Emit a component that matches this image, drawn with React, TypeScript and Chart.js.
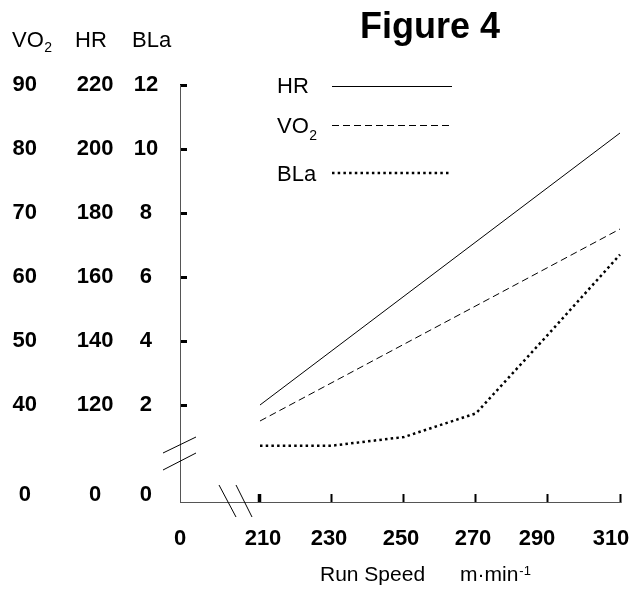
import React, { useEffect, useRef } from 'react';
import { Chart, registerables } from 'chart.js';

Chart.register(...registerables);

const FONT = "'Liberation Sans', Arial, Helvetica, sans-serif";

// ---- data ----
const speeds = [210, 230, 250, 270, 290, 310];
const hrValues = [120, 137, 154, 171, 188, 205];
const vo2Values = [37.5, 43.5, 49.5, 55.5, 61.5, 67.5];
const blaValues = [0.73, 0.73, 1.0, 1.74, 4.2, 6.7];

// ---- tick labels ----
const xTickValues = [0, 210, 230, 250, 270, 290, 310];
const vo2TickValues = [0, 40, 50, 60, 70, 80, 90];
const hrTickValues = [0, 120, 140, 160, 180, 200, 220];
const blaTickValues = [0, 2, 4, 6, 8, 10, 12];

// ---- axis ranges (broken axes: the "0" label sits past the break) ----
const X_MIN = 187.78;
const X_MAX = 310;
const BLA_MIN = -1.03125;
const BLA_MAX = 12;
const BLA_ZERO_AT = -0.8;
const HR_MIN = 89.6875;
const HR_MAX = 220;
const VO2_MIN = 24.84375;
const VO2_MAX = 90;
const ZERO_FRAC = (BLA_ZERO_AT - BLA_MIN) / (BLA_MAX - BLA_MIN);

const TITLE = 'Figure 4';
const X_TITLE = 'Run Speed';
const X_UNIT = 'm·min';
const X_UNIT_SUP = '-1';

// small horizontal nudges of the x tick labels (as placed in the original figure)
const X_LABEL_NUDGE = [0, 3, -3, -3, -3, -11, -9];

function brokenTicks(values: number[], min: number, max: number) {
  return (scale: any) => {
    scale.ticks = values.map((v) => ({ value: v === 0 ? min + ZERO_FRAC * (max - min) : v }));
  };
}

function fixSize(prop: 'width' | 'height', size: number) {
  return (scale: any) => {
    scale[prop] = size;
    scale.paddingLeft = 0;
    scale.paddingRight = 0;
    scale.paddingTop = 0;
    scale.paddingBottom = 0;
  };
}

function drawSub(ctx: CanvasRenderingContext2D, x: number, y: number, main: string, sub: string, size: number, subSize: number, dy: number) {
  ctx.font = `${size}px ${FONT}`;
  ctx.fillText(main, x, y);
  const w = ctx.measureText(main).width;
  ctx.font = `${subSize}px ${FONT}`;
  ctx.fillText(sub, x + w + 0.5, y + dy);
}

const nudgePlugin = {
  id: 'nudge',
  beforeDraw(chart: any) {
    const scale = chart.scales.x;
    const items = scale.getLabelItems();
    if (scale._nudged === items) return;
    items.forEach((it: any, i: number) => {
      if (it.options && it.options.translation) it.options.translation[0] += X_LABEL_NUDGE[i] || 0;
    });
    scale._nudged = items;
  },
};

const decorPlugin = {
  id: 'decor',
  afterDraw(chart: any) {
    const ctx: CanvasRenderingContext2D = chart.ctx;
    ctx.save();
    ctx.fillStyle = '#000';
    ctx.textAlign = 'left';
    ctx.textBaseline = 'alphabetic';

    // title
    ctx.font = `bold 36px ${FONT}`;
    ctx.fillText(TITLE, 360, 38);

    // axis headers
    drawSub(ctx, 12, 47, 'VO', '2', 22, 14, 5);
    ctx.font = `22px ${FONT}`;
    ctx.fillText('HR', 75, 47);
    ctx.fillText('BLa', 132, 47);

    // legend
    ctx.font = `22px ${FONT}`;
    ctx.fillText('HR', 277, 93);
    drawSub(ctx, 277, 133, 'VO', '2', 22, 14, 7);
    ctx.font = `22px ${FONT}`;
    ctx.fillText('BLa', 277, 181);

    ctx.strokeStyle = '#000';
    ctx.lineCap = 'butt';
    ctx.lineWidth = 1;
    ctx.setLineDash([]);
    ctx.beginPath(); ctx.moveTo(332, 86.5); ctx.lineTo(452, 86.5); ctx.stroke();
    ctx.setLineDash([7, 4]);
    ctx.beginPath(); ctx.moveTo(332, 125.5); ctx.lineTo(450, 125.5); ctx.stroke();
    ctx.lineWidth = 2.5;
    ctx.setLineDash([2.5, 3.2]);
    ctx.beginPath(); ctx.moveTo(332, 173); ctx.lineTo(450, 173); ctx.stroke();

    // x axis title
    ctx.setLineDash([]);
    ctx.font = `21px ${FONT}`;
    ctx.fillText(X_TITLE, 320, 581);
    ctx.fillText(X_UNIT, 460, 581);
    const uw = ctx.measureText(X_UNIT).width;
    ctx.font = `13px ${FONT}`;
    ctx.fillText(X_UNIT_SUP, 460 + uw + 1, 575);

    // axis break marks
    const { left, bottom } = chart.chartArea;
    ctx.lineWidth = 1;
    ctx.beginPath();
    ctx.moveTo(left - 17, bottom - 49); ctx.lineTo(left + 16, bottom - 65);
    ctx.moveTo(left - 17, bottom - 32); ctx.lineTo(left + 16, bottom - 49);
    ctx.moveTo(left + 39, bottom - 17); ctx.lineTo(left + 56, bottom + 15);
    ctx.moveTo(left + 56, bottom - 17); ctx.lineTo(left + 72, bottom + 15);
    ctx.stroke();
    ctx.restore();
  },
};

export default function App() {
  const ref = useRef<HTMLCanvasElement>(null);

  useEffect(() => {
    document.body.style.margin = '0';
    const tickFont = { family: FONT, size: 22, weight: 'bold' as const };
    const chart = new Chart(ref.current!, {
      type: 'line',
      data: {
        datasets: [
          {
            label: 'HR',
            data: speeds.map((s, i) => ({ x: s, y: hrValues[i] })),
            yAxisID: 'yH',
            borderColor: '#000',
            borderWidth: 1,
            pointRadius: 0,
            tension: 0,
            clip: false as any,
          },
          {
            label: 'VO2',
            data: speeds.map((s, i) => ({ x: s, y: vo2Values[i] })),
            yAxisID: 'yV',
            borderColor: '#000',
            borderWidth: 1,
            borderDash: [7, 4],
            pointRadius: 0,
            tension: 0,
            clip: false as any,
          },
          {
            label: 'BLa',
            data: speeds.map((s, i) => ({ x: s, y: blaValues[i] })),
            yAxisID: 'yB',
            borderColor: '#000',
            borderWidth: 2.5,
            borderDash: [2.5, 3.2],
            pointRadius: 0,
            tension: 0,
            clip: false as any,
          },
        ],
      },
      options: {
        responsive: false,
        animation: false,
        devicePixelRatio: 1,
        layout: { autoPadding: false, padding: { top: 85, right: 11, bottom: 0, left: 0 } } as any,
        plugins: { legend: { display: false }, title: { display: false }, tooltip: { enabled: false } },
        scales: {
          x: {
            type: 'linear',
            position: 'bottom',
            min: X_MIN,
            max: X_MAX,
            afterBuildTicks: (scale: any) => {
              scale.ticks = xTickValues.map((v) => ({ value: v === 0 ? X_MIN : v }));
            },
            afterFit: fixSize('height', 96),
            ticks: {
              autoSkip: false,
              maxRotation: 0,
              minRotation: 0,
              padding: 32,
              color: '#000',
              font: tickFont,
              callback: (_v: any, i: number) => String(xTickValues[i]),
            },
            grid: {
              drawOnChartArea: false,
              drawTicks: true,
              tickLength: -8,
              tickColor: (c: any) => (c.index === 0 ? 'rgba(0,0,0,0)' : '#000'),
              tickWidth: (c: any) => (c.index === 1 ? 3.5 : 2),
            },
            border: { display: true, color: '#555', width: 1 },
          },
          yV: {
            type: 'linear',
            position: 'left',
            weight: 3,
            min: VO2_MIN,
            max: VO2_MAX,
            afterBuildTicks: brokenTicks(vo2TickValues, VO2_MIN, VO2_MAX),
            afterFit: fixSize('width', 40),
            ticks: {
              autoSkip: false,
              crossAlign: 'center',
              padding: 3,
              color: '#000',
              font: tickFont,
              callback: (_v: any, i: number) => String(vo2TickValues[i]),
            },
            grid: { display: false, drawTicks: false },
            border: { display: false },
          },
          yH: {
            type: 'linear',
            position: 'left',
            weight: 2,
            min: HR_MIN,
            max: HR_MAX,
            afterBuildTicks: brokenTicks(hrTickValues, HR_MIN, HR_MAX),
            afterFit: fixSize('width', 80),
            ticks: {
              autoSkip: false,
              crossAlign: 'center',
              padding: 6.5,
              color: '#000',
              font: tickFont,
              callback: (_v: any, i: number) => String(hrTickValues[i]),
            },
            grid: { display: false, drawTicks: false },
            border: { display: false },
          },
          yB: {
            type: 'linear',
            position: 'left',
            weight: 1,
            min: BLA_MIN,
            max: BLA_MAX,
            afterBuildTicks: brokenTicks(blaTickValues, BLA_MIN, BLA_MAX),
            afterFit: fixSize('width', 60),
            ticks: {
              autoSkip: false,
              crossAlign: 'center',
              padding: 28.8,
              color: '#000',
              font: tickFont,
              callback: (_v: any, i: number) => String(blaTickValues[i]),
            },
            grid: {
              drawOnChartArea: false,
              drawTicks: true,
              tickLength: -7,
              tickColor: (c: any) => (c.index === 0 ? 'rgba(0,0,0,0)' : '#000'),
              tickWidth: 3,
            },
            border: { display: true, color: '#555', width: 1 },
          },
        } as any,
      },
      plugins: [nudgePlugin, decorPlugin],
    });
    return () => chart.destroy();
  }, []);

  return <canvas ref={ref} width={631} height={598} style={{ display: 'block' }} />;
}
